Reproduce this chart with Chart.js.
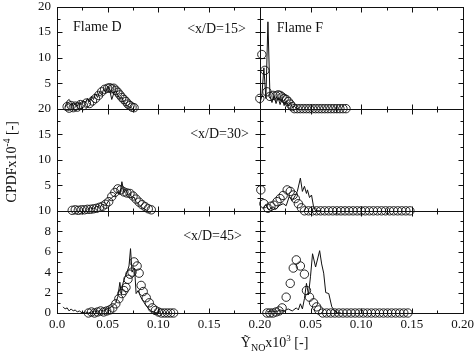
<!DOCTYPE html>
<html>
<head>
<meta charset="utf-8">
<script src="https://cdn.jsdelivr.net/npm/chart.js@4.4.0/dist/chart.umd.min.js"></script>
<style>
  body { margin: 0; background: #fff; }
  #wrap { width: 474px; height: 352px; position: relative; }
</style>
</head>
<body>
<div id="wrap"><canvas id="cpdfChart"></canvas></div>
<script>
// Flame D, x/D=15
const d15LineX = [0.008, 0.010, 0.012, 0.014, 0.016, 0.018, 0.020, 0.022, 0.024, 0.026, 0.028, 0.030, 0.032, 0.034, 0.036, 0.038, 0.040, 0.042, 0.044, 0.046, 0.048, 0.050, 0.052, 0.054, 0.056, 0.058, 0.060, 0.062, 0.064, 0.066, 0.068, 0.070, 0.072, 0.074];
const d15LineY = [0.3, 1.5, 1.8, 1.2, 0.6, 1.0, 0.5, 1.4, 0.8, 1.6, 1.1, 2.0, 1.3, 2.4, 1.8, 2.9, 2.2, 3.3, 2.7, 3.8, 3.2, 4.4, 3.6, 1.8, 3.0, 3.5, 2.6, 2.0, 2.2, 1.2, 0.8, 0.4, 0.3, 0.1];
const d15CircX = [0.010, 0.012, 0.014, 0.016, 0.018, 0.020, 0.023, 0.026, 0.029, 0.032, 0.035, 0.038, 0.041, 0.044, 0.047, 0.050, 0.052, 0.054, 0.056, 0.058, 0.060, 0.062, 0.064, 0.066, 0.068, 0.070, 0.072, 0.074, 0.076];
const d15CircY = [0.4, 0.1, 0.6, 0.2, 0.5, 0.3, 0.8, 0.6, 1.1, 1.0, 1.5, 2.0, 2.6, 3.3, 3.8, 4.0, 4.1, 3.9, 4.0, 3.6, 3.2, 2.7, 2.2, 1.8, 1.4, 0.9, 0.6, 0.3, 0.2];

// Flame F, x/D=15
const f15LineX = [0.000, 0.002, 0.004, 0.006, 0.008, 0.010, 0.012, 0.014, 0.016, 0.018, 0.020, 0.022, 0.024, 0.026, 0.028, 0.030, 0.032, 0.034, 0.036, 0.038];
const f15LineY = [1.0, 2.5, 8.0, 2.0, 17.0, 2.5, 1.2, 2.5, 1.0, 2.2, 0.8, 2.0, 0.6, 1.6, 0.5, 1.2, 0.3, 0.5, 0.1, 0.0];
const f15CircX = [0.000, 0.002, 0.005, 0.007, 0.010, 0.013, 0.016, 0.018, 0.020, 0.022, 0.024, 0.026, 0.028, 0.030, 0.032, 0.034, 0.037, 0.040, 0.043, 0.046, 0.049, 0.052, 0.055, 0.058, 0.061, 0.064, 0.067, 0.070, 0.073, 0.076, 0.079, 0.082, 0.085];
const f15CircY = [2.0, 10.6, 7.5, 3.3, 2.4, 2.6, 2.5, 2.7, 2.6, 2.3, 2.0, 1.8, 1.4, 0.9, 0.4, 0, 0, 0, 0, 0, 0, 0, 0, 0, 0, 0, 0, 0, 0, 0, 0, 0, 0];

// Flame D, x/D=30
const d30LineX = [0.030, 0.033, 0.036, 0.039, 0.042, 0.045, 0.048, 0.051, 0.054, 0.057, 0.060, 0.062, 0.064, 0.066, 0.068, 0.070, 0.072, 0.074, 0.076, 0.078, 0.080, 0.082, 0.084, 0.086, 0.088];
const d30LineY = [0.3, 0.6, 0.4, 0.9, 0.7, 1.3, 1.0, 2.0, 2.6, 3.0, 3.8, 3.2, 5.7, 3.6, 4.2, 3.0, 3.4, 2.4, 2.7, 1.8, 1.4, 1.0, 0.6, 0.4, 0.2];
const d30CircX = [0.015, 0.018, 0.021, 0.024, 0.027, 0.030, 0.033, 0.036, 0.039, 0.042, 0.045, 0.048, 0.051, 0.054, 0.057, 0.060, 0.063, 0.066, 0.069, 0.072, 0.075, 0.078, 0.081, 0.084, 0.087, 0.090, 0.093];
const d30CircY = [0.1, 0.2, 0.1, 0.2, 0.2, 0.3, 0.3, 0.4, 0.5, 0.7, 0.9, 1.3, 1.8, 2.8, 3.6, 4.3, 4.1, 3.7, 3.5, 3.4, 2.9, 2.3, 1.7, 1.2, 0.8, 0.4, 0.2];

// Flame F, x/D=30
const f30LineX = [0.003, 0.006, 0.009, 0.013, 0.016, 0.019, 0.023, 0.026, 0.029, 0.032, 0.035, 0.037, 0.040, 0.042, 0.044, 0.046, 0.047, 0.049, 0.051, 0.053, 0.055, 0.060];
const f30LineY = [0.4, 1.2, 0.2, 0.8, 0.3, 1.0, 1.4, 1.0, 2.8, 2.0, 3.0, 3.8, 6.4, 3.8, 4.8, 3.4, 4.1, 2.6, 3.1, 0.8, 0.0, 0.0];
const f30CircX = [0.001, 0.004, 0.008, 0.011, 0.014, 0.017, 0.020, 0.023, 0.027, 0.030, 0.033, 0.035, 0.038, 0.041, 0.044, 0.048, 0.052, 0.056, 0.060, 0.064, 0.068, 0.072, 0.076, 0.080, 0.084, 0.088, 0.092, 0.096, 0.100, 0.104, 0.108, 0.112, 0.116, 0.120, 0.124, 0.128, 0.132, 0.136, 0.140, 0.144, 0.148];
const f30CircY = [4.1, 1.4, 0.5, 0.9, 1.1, 1.8, 2.4, 3.0, 4.1, 3.8, 3.1, 2.4, 1.4, 0.6, 0, 0, 0, 0, 0, 0, 0, 0, 0, 0, 0, 0, 0, 0, 0, 0, 0, 0, 0, 0, 0, 0, 0, 0, 0, 0, 0];

// Flame D, x/D=45
const d45LineX = [0.006, 0.008, 0.010, 0.012, 0.014, 0.016, 0.018, 0.020, 0.022, 0.025, 0.028, 0.031, 0.034, 0.037, 0.040, 0.043, 0.046, 0.049, 0.052, 0.055, 0.058, 0.060, 0.062, 0.0635, 0.065, 0.067, 0.069, 0.071, 0.0725, 0.074, 0.0765, 0.078, 0.080, 0.082, 0.084, 0.086, 0.088, 0.090, 0.093, 0.096, 0.100];
const d45LineY = [0.6, 0.4, 0.5, 0.2, 0.4, 0.2, 0.3, 0.1, 0.2, 0.0, 0.1, 0.0, 0.1, 0.2, 0.1, 0.3, 0.2, 0.4, 0.5, 0.7, 1.0, 1.6, 3.0, 1.8, 2.9, 3.5, 4.0, 4.6, 6.3, 4.0, 4.4, 1.9, 2.2, 1.7, 1.3, 1.0, 0.7, 0.45, 0.2, 0.05, 0.0];
const d45CircX = [0.031, 0.034, 0.037, 0.040, 0.043, 0.046, 0.049, 0.052, 0.055, 0.058, 0.061, 0.064, 0.066, 0.068, 0.070, 0.072, 0.074, 0.076, 0.079, 0.081, 0.083, 0.085, 0.088, 0.091, 0.094, 0.097, 0.100, 0.103, 0.106, 0.109, 0.112, 0.115];
const d45CircY = [0.0, 0.1, 0.0, 0.1, 0.2, 0.1, 0.2, 0.3, 0.5, 0.9, 1.4, 1.9, 2.2, 2.5, 3.3, 3.8, 4.0, 5.0, 4.6, 3.9, 2.7, 2.1, 1.5, 1.0, 0.5, 0.25, 0.1, 0.0, 0.0, 0.0, 0.0, 0.0];

// Flame F, x/D=45
const f45LineX = [0.007, 0.012, 0.016, 0.020, 0.024, 0.028, 0.032, 0.036, 0.038, 0.040, 0.042, 0.044, 0.046, 0.048, 0.050, 0.052, 0.055, 0.059, 0.061, 0.063, 0.065, 0.068, 0.071, 0.074, 0.077, 0.080];
const f45LineY = [0.1, 0.2, 0.1, 0.3, 0.2, 0.4, 0.2, 0.5, 0.3, 0.9, 0.4, 1.4, 2.9, 1.8, 3.6, 5.8, 4.5, 6.1, 4.8, 3.9, 2.0, 1.9, 0.6, 0.2, 0.0, 0.0];
const f45CircX = [0.007, 0.010, 0.013, 0.016, 0.019, 0.022, 0.026, 0.030, 0.033, 0.036, 0.040, 0.044, 0.046, 0.049, 0.053, 0.056, 0.058, 0.062, 0.066, 0.070, 0.074, 0.078, 0.082, 0.086, 0.090, 0.094, 0.098, 0.102, 0.106, 0.110, 0.114, 0.118, 0.122, 0.126, 0.130, 0.134, 0.138, 0.142, 0.146];
const f45CircY = [0, 0, 0, 0.1, 0.2, 0.5, 1.55, 2.9, 4.4, 5.2, 4.6, 3.8, 2.2, 1.55, 1.0, 0.6, 0.3, 0, 0, 0, 0, 0, 0, 0, 0, 0, 0, 0, 0, 0, 0, 0, 0, 0, 0, 0, 0, 0, 0];

// axis ranges / tick steps
const xRange = [0, 0.2];
const xLabelStep = 0.05;
const xTickStep = 0.025;
const yMax = { y1: 20, y2: 20, y3: 10 };
const yLabelStep = { y1: 5, y2: 5, y3: 2 };
const yTickStep = { y1: 2.5, y2: 2.5, y3: 1 };

const panels = [
  { x: "x1", y: "y1", lineX: d15LineX, lineY: d15LineY, circX: d15CircX, circY: d15CircY },
  { x: "x2", y: "y1", lineX: f15LineX, lineY: f15LineY, circX: f15CircX, circY: f15CircY },
  { x: "x1", y: "y2", lineX: d30LineX, lineY: d30LineY, circX: d30CircX, circY: d30CircY },
  { x: "x2", y: "y2", lineX: f30LineX, lineY: f30LineY, circX: f30CircX, circY: f30CircY },
  { x: "x1", y: "y3", lineX: d45LineX, lineY: d45LineY, circX: d45CircX, circY: d45CircY },
  { x: "x2", y: "y3", lineX: f45LineX, lineY: f45LineY, circX: f45CircX, circY: f45CircY },
];

const notes = [
  { text: "Flame D", x: "x1", y: "y1", side: "left", dx: 16, dy: 24 },
  { text: "<x/D=15>", x: "x1", y: "y1", side: "right", dx: -14, dy: 26 },
  { text: "<x/D=30>", x: "x1", y: "y2", side: "right", dx: -11, dy: 29 },
  { text: "<x/D=45>", x: "x1", y: "y3", side: "right", dx: -18, dy: 29 },
  { text: "Flame F", x: "x2", y: "y1", side: "left", dx: 17, dy: 25 },
];

const serif = "'Liberation Serif', 'DejaVu Serif', serif";
const ink = "#111";
const toPoints = (xs, ys) => xs.map((x, i) => ({ x: x, y: ys[i] }));

const datasets = [];
panels.forEach((p) => {
  datasets.push({
    data: toPoints(p.lineX, p.lineY),
    xAxisID: p.x,
    yAxisID: p.y,
    showLine: true,
    borderColor: ink,
    borderWidth: 1,
    pointRadius: 0,
    clip: false,
  });
  datasets.push({
    data: toPoints(p.circX, p.circY),
    xAxisID: p.x,
    yAxisID: p.y,
    showLine: false,
    pointRadius: 4.2,
    pointBorderWidth: 0.9,
    pointBorderColor: ink,
    pointBackgroundColor: "rgba(0,0,0,0)",
    backgroundColor: "rgba(0,0,0,0)",
    clip: false,
  });
});

const tickFont = { family: serif, size: 13, lineHeight: 1 };

function xScale(weight, showZero) {
  return {
    type: "linear",
    position: "bottom",
    stack: "cols",
    stackWeight: 1,
    weight: weight,
    min: xRange[0],
    max: xRange[1],
    grid: { display: false, drawTicks: true, tickLength: 5 },
    border: { display: false },
    ticks: {
      stepSize: xLabelStep,
      padding: 0,
      color: ink,
      font: tickFont,
      autoSkip: false,
      maxRotation: 0,
      callback: (v) => (v === 0 ? (showZero ? "0.0" : "") : v.toFixed(2)),
    },
    afterFit: (s) => { s.height = 39; },
  };
}

function yScale(id, weight, showZero) {
  return {
    type: "linear",
    position: "left",
    stack: "rows",
    stackWeight: 1,
    weight: weight,
    min: 0,
    max: yMax[id],
    grid: { display: false, drawTicks: true, tickLength: 6 },
    border: { display: false },
    ticks: {
      stepSize: yLabelStep[id],
      padding: 0,
      color: ink,
      font: tickFont,
      autoSkip: false,
      callback: (v) => (v === 0 && !showZero ? "" : String(v)),
    },
    afterFit: (s) => { s.width = 32; },
  };
}

// frames and inward tick marks for every panel
const panelFrames = {
  id: "panelFrames",
  afterDatasetsDraw(chart) {
    const ctx = chart.ctx;
    ctx.save();
    ctx.strokeStyle = ink;
    ctx.lineWidth = 1;
    ["x1", "x2"].forEach((xid) => {
      ["y1", "y2", "y3"].forEach((yid) => {
        const xs = chart.scales[xid];
        const ys = chart.scales[yid];
        const l = Math.round(xs.left) + 0.5;
        const r = Math.round(xs.right) + 0.5;
        const t = Math.round(ys.top) + 0.5;
        const b = Math.round(ys.bottom) + 0.5;
        ctx.strokeRect(l, t, r - l, b - t);
        ctx.beginPath();
        const nx = Math.round((xs.max - xs.min) / xTickStep);
        for (let i = 1; i < nx; i++) {
          const px = Math.round(xs.getPixelForValue(xs.min + i * xTickStep)) + 0.5;
          const len = i % 2 === 0 ? 5 : 3;
          ctx.moveTo(px, b); ctx.lineTo(px, b - len);
          ctx.moveTo(px, t); ctx.lineTo(px, t + len);
        }
        const step = yTickStep[yid];
        const ny = Math.round(yMax[yid] / step);
        for (let i = 1; i < ny; i++) {
          const py = Math.round(ys.getPixelForValue(i * step)) + 0.5;
          const len = i % 2 === 0 ? 5 : 3;
          ctx.moveTo(l, py); ctx.lineTo(l + len, py);
          ctx.moveTo(r, py); ctx.lineTo(r - len, py);
        }
        ctx.stroke();
      });
    });
    ctx.restore();
  },
};

function drawRun(ctx, parts, x, y, centered) {
  let w = 0;
  parts.forEach((p) => {
    ctx.font = p.size + "px " + serif;
    w += ctx.measureText(p.text).width;
  });
  let cx = centered ? x - w / 2 : x;
  parts.forEach((p) => {
    ctx.font = p.size + "px " + serif;
    ctx.fillText(p.text, cx, y + p.shift);
    cx += ctx.measureText(p.text).width;
  });
}

// panel notes and axis titles
const panelText = {
  id: "panelText",
  afterDraw(chart) {
    const ctx = chart.ctx;
    const area = chart.chartArea;
    ctx.save();
    ctx.fillStyle = ink;
    ctx.textBaseline = "alphabetic";
    ctx.font = "14px " + serif;
    notes.forEach((n) => {
      const xs = chart.scales[n.x];
      const ys = chart.scales[n.y];
      ctx.textAlign = n.side;
      const px = n.side === "left" ? xs.left + n.dx : xs.right + n.dx;
      ctx.fillText(n.text, px, ys.top + n.dy);
    });
    ctx.textAlign = "left";

    drawRun(ctx, [
      { text: "\u1EF8", size: 14, shift: 0 },
      { text: "NO", size: 10, shift: 4 },
      { text: "x10", size: 14, shift: 0 },
      { text: "3", size: 9, shift: -6 },
      { text: " [-]", size: 14, shift: 0 },
    ], chart.scales.x1.right - 19, area.bottom + 34, false);

    ctx.translate(area.left - 41.5, (area.top + area.bottom) / 2 + 2);
    ctx.rotate(-Math.PI / 2);
    drawRun(ctx, [
      { text: "CPDFx10", size: 14, shift: 0 },
      { text: "-4", size: 9.5, shift: -6 },
      { text: " [-]", size: 14, shift: 0 },
    ], 0, 0, true);
    ctx.restore();
  },
};

new Chart(document.getElementById("cpdfChart").getContext("2d"), {
  type: "scatter",
  data: { datasets: datasets },
  options: {
    responsive: true,
    maintainAspectRatio: false,
    animation: false,
    layout: { padding: { left: 25, right: 11, top: 6, bottom: 0 } },
    plugins: {
      legend: { display: false },
      tooltip: { enabled: false },
    },
    scales: {
      x1: xScale(1, true),
      x2: xScale(2, false),
      y1: yScale("y1", 3, false),
      y2: yScale("y2", 2, false),
      y3: yScale("y3", 1, true),
    },
  },
  plugins: [panelFrames, panelText],
});
</script>
</body>
</html>
